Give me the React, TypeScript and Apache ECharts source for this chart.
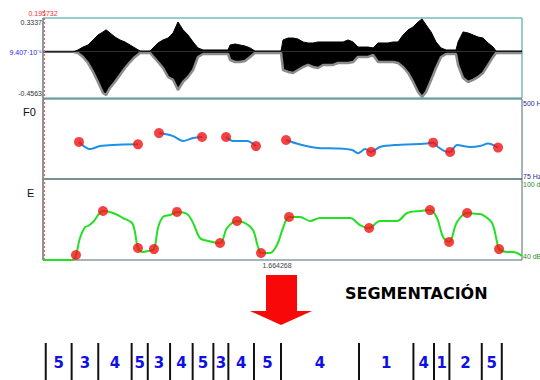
import React, { useEffect, useRef } from "react";
import * as echarts from "echarts";

// ---------- data ----------
const DURATION = 3.3285; // seconds
const cursorLabel = "1.664268";
const selectionLabel = "0.195732";
const waveAxisLabels = ["0.3337", "9.407·10⁻⁶", "-0.4563"];
const waveMin = -0.4563;
const waveMax = 0.3337;
const f0AxisLabels = ["500 Hz", "75 Hz"];
const f0Min = 75;
const f0Max = 500;
const energyAxisLabels = ["100 dB", "40 dB"];
const energyMin = 40;
const energyMax = 100;
const panelLabels = ["F0", "E"];
const titleText = "SEGMENTACIÓN";

const waveTime = [
  0.0, 0.209, 0.243, 0.278, 0.313, 0.348, 0.382, 0.417, 0.438, 0.466, 0.5, 0.535, 0.57, 0.605, 0.639, 0.674,
  0.744, 0.799, 0.834, 0.869, 0.904, 0.938, 0.973, 1.008, 1.043, 1.077, 1.112, 1.286, 1.3, 1.334, 1.369, 1.404,
  1.439, 1.473, 1.654, 1.668, 1.703, 1.738, 1.772, 1.807, 1.842, 1.877, 1.911, 1.946, 1.981, 2.016, 2.05, 2.085,
  2.12, 2.155, 2.189, 2.224, 2.259, 2.294, 2.328, 2.363, 2.398, 2.433, 2.467, 2.502, 2.537, 2.572, 2.606, 2.634,
  2.662, 2.697, 2.731, 2.766, 2.801, 2.87, 2.884, 2.919, 2.954, 2.989, 3.023, 3.058, 3.093, 3.128, 3.148, 3.329,
];
const waveTop = [
  0.0, 0.0, 0.018, 0.047, 0.067, 0.117, 0.166, 0.196, 0.217, 0.186, 0.146, 0.117, 0.097, 0.067, 0.038, 0.008,
  0.008, 0.087, 0.117, 0.136, 0.186, 0.294, 0.217, 0.166, 0.097, 0.038, 0.018, 0.018, 0.067, 0.077, 0.067, 0.057,
  0.038, 0.008, 0.008, 0.117, 0.136, 0.136, 0.126, 0.097, 0.087, 0.087, 0.097, 0.097, 0.097, 0.097, 0.097, 0.097,
  0.117, 0.097, 0.047, 0.047, 0.047, 0.038, 0.087, 0.087, 0.087, 0.097, 0.097, 0.166, 0.217, 0.245, 0.294, 0.324,
  0.265, 0.196, 0.097, 0.038, 0.018, 0.018, 0.097, 0.196, 0.186, 0.166, 0.146, 0.136, 0.087, 0.047, 0.008, 0.008,
];
const waveBottom = [
  0.0, 0.0, -0.012, -0.051, -0.111, -0.199, -0.298, -0.407, -0.427, -0.357, -0.298, -0.229, -0.16, -0.101, -0.051, -0.012,
  -0.012, -0.101, -0.16, -0.249, -0.278, -0.377, -0.298, -0.249, -0.18, -0.051, -0.022, -0.022, -0.081, -0.101, -0.101, -0.091,
  -0.051, -0.012, -0.012, -0.18, -0.199, -0.209, -0.18, -0.15, -0.13, -0.15, -0.16, -0.13, -0.13, -0.13, -0.111, -0.111,
  -0.111, -0.101, -0.051, -0.051, -0.051, -0.032, -0.101, -0.101, -0.101, -0.101, -0.111, -0.15, -0.209, -0.298, -0.397, -0.446,
  -0.397, -0.278, -0.16, -0.051, -0.022, -0.022, -0.13, -0.259, -0.298, -0.278, -0.249, -0.209, -0.13, -0.051, -0.012, -0.012,
];

// F0 contour (s, Hz), voiced stretches
const f0Seg1 = [[0.25, 272], [0.327, 234], [0.396, 250], [0.487, 256], [0.66, 259]];
const f0Seg2 = [[0.806, 319], [0.904, 303], [0.973, 277], [1.043, 293], [1.105, 298]];
const f0Seg3 = [[1.272, 298], [1.321, 277], [1.418, 277], [1.48, 250]];
const f0Seg4 = [
  [1.689, 282], [1.786, 258], [1.911, 240], [2.043, 237], [2.148, 229], [2.189, 212], [2.238, 234], [2.28, 219],
  [2.342, 245], [2.46, 256], [2.572, 259], [2.669, 264], [2.711, 268], [2.745, 245], [2.794, 222], [2.829, 219],
  [2.877, 256], [2.968, 245], [3.037, 250], [3.093, 264], [3.162, 242],
];
const f0Marks = [
  [0.25, 272], [0.66, 259], [0.806, 319], [1.105, 298], [1.272, 298], [1.48, 250], [1.689, 282], [2.28, 219],
  [2.711, 268], [2.829, 219], [3.162, 242],
];

// Energy contour (s, dB)
const energy = [
  [0, 40.0], [0.202, 40.0], [0.229, 43.7], [0.257, 56.3], [0.292, 64.4], [0.313, 65.2], [0.348, 68.1], [0.417, 76.3],
  [0.487, 74.8], [0.556, 71.1], [0.619, 67.4], [0.639, 60.7], [0.66, 48.9], [0.695, 45.9], [0.73, 46.7], [0.771, 48.1],
  [0.799, 63.7], [0.834, 71.9], [0.883, 73.3], [0.931, 75.6], [1.001, 74.1], [1.043, 67.4], [1.091, 56.3], [1.147, 54.1],
  [1.23, 52.6], [1.279, 63.7], [1.348, 68.9], [1.404, 67.4], [1.459, 62.2], [1.494, 49.6], [1.515, 45.2], [1.557, 45.2],
  [1.578, 45.2], [1.626, 51.1], [1.668, 63.7], [1.71, 71.9], [1.786, 71.9], [1.856, 68.9], [1.925, 71.1], [2.134, 71.1],
  [2.203, 65.9], [2.266, 63.7], [2.342, 68.9], [2.46, 68.9], [2.53, 74.8], [2.62, 76.3], [2.689, 77.0], [2.738, 71.1],
  [2.78, 57.0], [2.822, 53.3], [2.877, 68.1], [2.947, 74.8], [3.016, 74.1], [3.058, 73.3], [3.12, 67.4], [3.155, 53.3],
  [3.169, 48.1], [3.225, 45.9], [3.266, 45.9], [3.329, 43.0],
];
const energyMarks = [
  [0.229, 43.7], [0.417, 76.3], [0.66, 48.9], [0.771, 48.1], [0.931, 75.6], [1.23, 52.6], [1.348, 68.9], [1.515, 45.2],
  [1.71, 71.9], [2.266, 63.7], [2.689, 77.0], [2.822, 53.3], [2.947, 74.8], [3.169, 48.1],
];

// Segmentation (boundaries in s, labels between them)
const segBounds = [
  0.019, 0.199, 0.384, 0.616, 0.728, 0.883, 1.04, 1.184, 1.288, 1.466, 1.654, 2.196, 2.574, 2.717, 2.824, 3.049, 3.188,
];
const segLabels = ["5", "3", "4", "5", "3", "4", "5", "3", "4", "5", "4", "1", "4", "1", "2", "5"];

// ---------- layout ----------
const PL = 43;
const PW = 479;
const G = [
  { top: 18, height: 80 },
  { top: 99, height: 80 },
  { top: 179, height: 81 },
  { top: 343, height: 37 },
];
const SMALL = "7px 'Liberation Sans', Arial, sans-serif";

function txt(text: string, x: number, y: number, fill: string, font: string, align = "left", valign = "middle") {
  return {
    type: "text",
    x,
    y,
    z: 100,
    silent: true,
    style: {
      text,
      fill,
      font,
      align,
      textAlign: align,
      verticalAlign: valign,
      textVerticalAlign: valign,
    },
  };
}

function buildOption(): any {
  const f0Segs = [f0Seg1, f0Seg2, f0Seg3, f0Seg4];
  const right = PL + PW + 1;
  return {
    animation: false,
    backgroundColor: "#ffffff",
    grid: G.map((g, i) => ({
      left: PL,
      top: g.top,
      width: PW,
      height: g.height,
      show: i < 3,
      borderColor: i === 0 ? "#2e9c9c" : "#4a6a70",
      borderWidth: 1,
      backgroundColor: "transparent",
    })),
    xAxis: G.map((_, i) => ({ type: "value", gridIndex: i, min: 0, max: DURATION, show: false })),
    yAxis: [
      { type: "value", gridIndex: 0, min: waveMin, max: waveMax, show: false },
      { type: "value", gridIndex: 1, min: f0Min, max: f0Max, show: false },
      { type: "value", gridIndex: 2, min: energyMin, max: energyMax, show: false },
      { type: "value", gridIndex: 3, min: 0, max: 1, show: false },
    ],
    series: [
      {
        type: "line",
        xAxisIndex: 0,
        yAxisIndex: 0,
        data: waveTime.map((t, i) => [t, waveBottom[i]]),
        symbol: "none",
        lineStyle: { color: "#8c8c8c", width: 2.5 },
        areaStyle: { color: "#000000", opacity: 1 },
        z: 2,
      },
      {
        type: "line",
        xAxisIndex: 0,
        yAxisIndex: 0,
        data: waveTime.map((t, i) => [t, waveTop[i]]),
        symbol: "none",
        lineStyle: { color: "#000000", width: 1 },
        areaStyle: { color: "#000000", opacity: 1 },
        z: 3,
      },
      ...f0Segs.map((seg) => ({
        type: "line",
        xAxisIndex: 1,
        yAxisIndex: 1,
        data: seg,
        symbol: "none",
        smooth: 0.3,
        lineStyle: { color: "#1e90e6", width: 2 },
        z: 3,
      })),
      {
        type: "scatter",
        xAxisIndex: 1,
        yAxisIndex: 1,
        data: f0Marks,
        symbolSize: 10,
        itemStyle: { color: "#f21212" },
        z: 4,
      },
      {
        type: "line",
        xAxisIndex: 2,
        yAxisIndex: 2,
        data: energy,
        symbol: "none",
        smooth: 0.35,
        lineStyle: { color: "#22e022", width: 2 },
        z: 3,
      },
      {
        type: "scatter",
        xAxisIndex: 2,
        yAxisIndex: 2,
        data: energyMarks,
        symbolSize: 10,
        itemStyle: { color: "#f21212" },
        z: 4,
      },
      {
        type: "custom",
        xAxisIndex: 3,
        yAxisIndex: 3,
        data: segLabels.map((_, i) => [segBounds[i], segBounds[i + 1]]),
        renderItem: (params: any, api: any) => {
          const s = api.coord([api.value(0), 0]);
          const e = api.coord([api.value(1), 0]);
          const top = params.coordSys.y;
          const h = params.coordSys.height;
          const label = segLabels[params.dataIndex];
          const children: any[] = [
            {
              type: "line",
              shape: { x1: s[0], y1: top, x2: s[0], y2: top + h },
              style: { stroke: "#111111", lineWidth: 2 },
            },
            {
              type: "text",
              x: (s[0] + e[0]) / 2,
              y: top + 20,
              style: {
                text: label,
                fill: "#1010e6",
                font: "bold 15px 'DejaVu Sans', sans-serif",
                align: "center",
                textAlign: "center",
                verticalAlign: "middle",
                textVerticalAlign: "middle",
              },
            },
          ];
          if (params.dataIndex === segLabels.length - 1) {
            children.push({
              type: "line",
              shape: { x1: e[0], y1: top, x2: e[0], y2: top + h },
              style: { stroke: "#111111", lineWidth: 2 },
            });
          }
          return { type: "group", children };
        },
        z: 5,
      },
    ],
    graphic: [
      // left edge & red selection cursor
      {
        type: "line",
        z: 90,
        silent: true,
        shape: { x1: PL, y1: G[0].top, x2: PL, y2: G[2].top + G[2].height },
        style: { stroke: "#8a8a8a", lineWidth: 1.5 },
      },
      {
        type: "line",
        z: 91,
        silent: true,
        shape: { x1: PL + 1.5, y1: 10, x2: PL + 1.5, y2: G[2].top + G[2].height + 2 },
        style: { stroke: "#f06060", lineWidth: 1, lineDash: [2, 2] },
      },
      txt(selectionLabel, PL, 13, "#f03030", SMALL, "center"),
      txt(waveAxisLabels[0], PL - 1, 22, "#333333", SMALL, "right"),
      txt(waveAxisLabels[1], PL - 1, 52, "#2424f0", SMALL, "right"),
      txt(waveAxisLabels[2], PL - 1, 93, "#333333", SMALL, "right"),
      txt(f0AxisLabels[0], right, 103, "#2a2a8a", SMALL, "left"),
      txt(f0AxisLabels[1], right, 176, "#2a2a8a", SMALL, "left"),
      txt(energyAxisLabels[0], right, 184, "#2a8a2a", SMALL, "left"),
      txt(energyAxisLabels[1], right, 256, "#2a8a2a", SMALL, "left"),
      txt(panelLabels[0], 23, 112, "#111111", "11px 'Liberation Sans', Arial, sans-serif", "left"),
      txt(panelLabels[1], 27, 193, "#111111", "11px 'Liberation Sans', Arial, sans-serif", "left"),
      txt(cursorLabel, 277, 265, "#444444", SMALL, "center"),
      {
        type: "polygon",
        z: 90,
        silent: true,
        shape: {
          points: [
            [266, 275],
            [297, 275],
            [297, 311],
            [312, 311],
            [281, 325],
            [250, 311],
            [266, 311],
          ],
        },
        style: { fill: "#f80808" },
      },
      txt(titleText, 345, 293, "#000000", "bold 16px 'DejaVu Sans', sans-serif", "left"),
    ],
  };
}

export default function App() {
  const ref = useRef<HTMLDivElement>(null);
  useEffect(() => {
    if (!ref.current) return;
    const chart = echarts.init(ref.current, null, { renderer: "svg" });
    chart.setOption(buildOption());
    return () => chart.dispose();
  }, []);
  return (
    <div
      ref={ref}
      style={{ position: "fixed", left: 0, top: 0, width: 540, height: 380, background: "#ffffff" }}
    />
  );
}
